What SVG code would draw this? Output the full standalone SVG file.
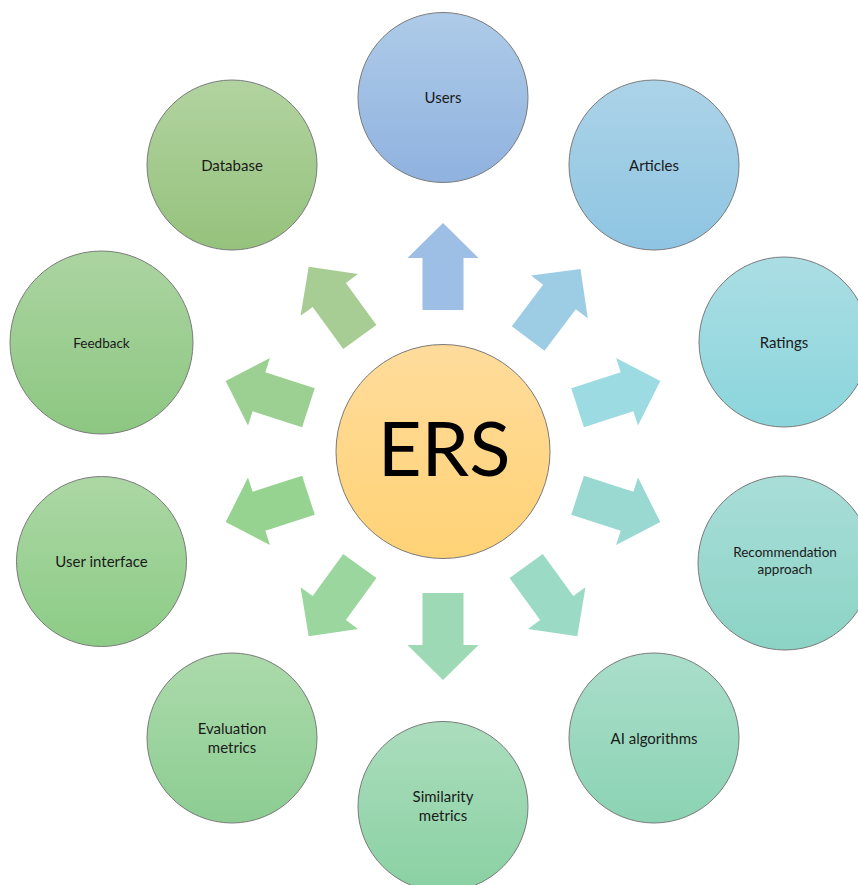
<svg xmlns="http://www.w3.org/2000/svg" width="858" height="885" viewBox="0 0 858 885">
<style>
.node{stroke:#7a7a7a;stroke-width:1}
.lbl{font-family:Lato,"Open Sans","Liberation Sans",sans-serif;font-size:15px;fill:#1a1a1a;text-anchor:middle}
.sm{font-size:13.5px}
.ers{font-family:Lato,"Open Sans","Liberation Sans",sans-serif;font-size:76px;fill:#000;text-anchor:middle}
</style>
<defs>
<linearGradient id="gC" x1="0" y1="0" x2="0" y2="1"><stop offset="0" stop-color="#ffdc9c"/><stop offset="1" stop-color="#ffd275"/></linearGradient>
<linearGradient id="g1" x1="0" y1="0" x2="0" y2="1"><stop offset="0" stop-color="#aecbe8"/><stop offset="1" stop-color="#8fb2df"/></linearGradient>
<linearGradient id="g2" x1="0" y1="0" x2="0" y2="1"><stop offset="0" stop-color="#acd3e8"/><stop offset="1" stop-color="#8ec5e2"/></linearGradient>
<linearGradient id="g3" x1="0" y1="0" x2="0" y2="1"><stop offset="0" stop-color="#abdee4"/><stop offset="1" stop-color="#8bd5dc"/></linearGradient>
<linearGradient id="g4" x1="0" y1="0" x2="0" y2="1"><stop offset="0" stop-color="#a9ded8"/><stop offset="1" stop-color="#8bd3c5"/></linearGradient>
<linearGradient id="g5" x1="0" y1="0" x2="0" y2="1"><stop offset="0" stop-color="#aadecb"/><stop offset="1" stop-color="#8bd3b3"/></linearGradient>
<linearGradient id="g6" x1="0" y1="0" x2="0" y2="1"><stop offset="0" stop-color="#abddbd"/><stop offset="1" stop-color="#8ad1a3"/></linearGradient>
<linearGradient id="g7" x1="0" y1="0" x2="0" y2="1"><stop offset="0" stop-color="#acdaab"/><stop offset="1" stop-color="#8ccd92"/></linearGradient>
<linearGradient id="g8" x1="0" y1="0" x2="0" y2="1"><stop offset="0" stop-color="#acd7a4"/><stop offset="1" stop-color="#8ccc86"/></linearGradient>
<linearGradient id="g9" x1="0" y1="0" x2="0" y2="1"><stop offset="0" stop-color="#acd4a1"/><stop offset="1" stop-color="#8cc781"/></linearGradient>
<linearGradient id="g10" x1="0" y1="0" x2="0" y2="1"><stop offset="0" stop-color="#b2d3a0"/><stop offset="1" stop-color="#95c27c"/></linearGradient>
<polygon id="arr" points="141.5,-20.5 193.5,-20.5 193.5,-35.5 228.5,0 193.5,35.5 193.5,20.5 141.5,20.5"/>
</defs>

<g id="connectors" transform="translate(443,451.5)">
<use href="#arr" transform="rotate(-90)" fill="#9dbee5"/>
<use href="#arr" transform="rotate(-53)" fill="#9dcde5"/>
<use href="#arr" transform="rotate(-18)" fill="#9cdbe2"/>
<use href="#arr" transform="rotate(18)" fill="#9ad9d2"/>
<use href="#arr" transform="rotate(54)" fill="#9bdac4"/>
<use href="#arr" transform="rotate(90)" fill="#9cd9b4"/>
<use href="#arr" transform="rotate(126)" fill="#9bd69e"/>
<use href="#arr" transform="rotate(162)" fill="#96d290"/>
<use href="#arr" transform="rotate(198)" fill="#9bd092"/>
<use href="#arr" transform="rotate(234)" fill="#a8cd94"/>
</g>

<g id="ers"><circle class="node" cx="443" cy="451.5" r="107" fill="url(#gC)"/><text class="ers" x="444" y="476">ERS</text></g>
<g id="users"><circle class="node" cx="443" cy="97.5" r="85" fill="url(#g1)"/><text class="lbl" x="443" y="103">Users</text></g>
<g id="articles"><circle class="node" cx="654" cy="165" r="85" fill="url(#g2)"/><text class="lbl" x="654" y="170.5">Articles</text></g>
<g id="ratings"><circle class="node" cx="784" cy="342" r="85" fill="url(#g3)"/><text class="lbl" x="784" y="347.5">Ratings</text></g>
<g id="recommendation"><circle class="node" cx="785" cy="563" r="87" fill="url(#g4)"/><text class="lbl sm" x="785" y="557">Recommendation</text><text class="lbl sm" x="785" y="574">approach</text></g>
<g id="ai"><circle class="node" cx="654" cy="738" r="85" fill="url(#g5)"/><text class="lbl" x="654" y="743.5">AI algorithms</text></g>
<g id="similarity"><circle class="node" cx="443" cy="806.5" r="85" fill="url(#g6)"/><text class="lbl" x="443" y="802">Similarity</text><text class="lbl" x="443" y="821">metrics</text></g>
<g id="evaluation"><circle class="node" cx="232" cy="738" r="85" fill="url(#g7)"/><text class="lbl" x="232" y="734">Evaluation</text><text class="lbl" x="232" y="753">metrics</text></g>
<g id="userinterface"><circle class="node" cx="101.5" cy="561.5" r="85" fill="url(#g8)"/><text class="lbl" x="101.5" y="567">User interface</text></g>
<g id="feedback"><circle class="node" cx="101.5" cy="342.5" r="91.5" fill="url(#g9)"/><text class="lbl sm" x="101.5" y="347.5">Feedback</text></g>
<g id="database"><circle class="node" cx="232" cy="165" r="85" fill="url(#g10)"/><text class="lbl" x="232" y="170.5">Database</text></g>
</svg>
